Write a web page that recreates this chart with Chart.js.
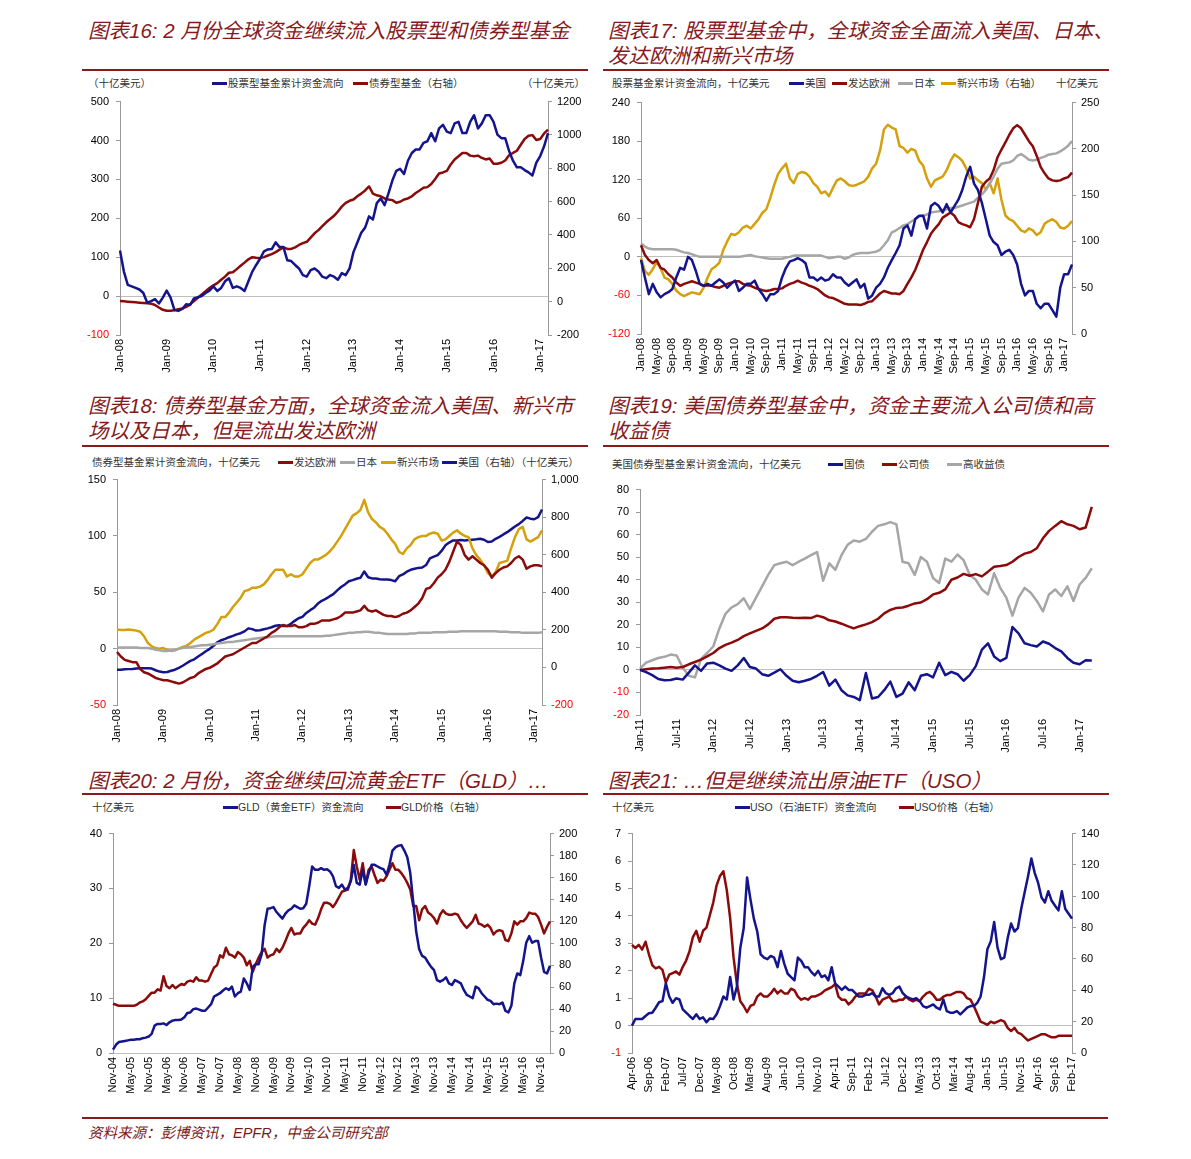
<!DOCTYPE html>
<html>
<head>
<meta charset="utf-8">
<script src="https://cdn.jsdelivr.net/npm/chart.js@4.4.1/dist/chart.umd.min.js"></script>
<style>
  body { margin: 0; background: #fff; width: 1191px; height: 1159px; position: relative; overflow: hidden; }
  .t { position: absolute; white-space: nowrap; }
  .title { font-family: "Liberation Sans", "Noto Sans CJK SC", sans-serif; font-style: italic; font-size: 20.5px; line-height: 25px; color: #86191c; }
  .rule { position: absolute; height: 2px; background: #8b1a1a; }
  .lg { font-family: "Liberation Sans", "Noto Sans CJK SC", sans-serif; font-size: 10.5px; line-height: 12px; color: #333; }
  .sw { position: absolute; width: 15px; height: 3px; }
  .foot { font-family: "Liberation Sans", "Noto Sans CJK SC", sans-serif; font-style: italic; font-size: 14.5px; color: #7a1a1a; }
  canvas { position: absolute; }
</style>
</head>
<body>

<div class="t title" style="left:88px;top:18px">图表16: 2 月份全球资金继续流入股票型和债券型基金</div>
<div class="rule" style="left:82px;top:69px;width:506px"></div>
<div class="t title" style="left:608px;top:18px">图表17: 股票型基金中，全球资金全面流入美国、日本、<br>发达欧洲和新兴市场</div>
<div class="rule" style="left:603px;top:69px;width:506px"></div>
<div class="t title" style="left:88px;top:393px">图表18: 债券型基金方面，全球资金流入美国、新兴市<br>场以及日本，但是流出发达欧洲</div>
<div class="rule" style="left:82px;top:445px;width:506px"></div>
<div class="t title" style="left:608px;top:393px">图表19: 美国债券型基金中，资金主要流入公司债和高<br>收益债</div>
<div class="rule" style="left:603px;top:445px;width:506px"></div>
<div class="t title" style="left:88px;top:768px">图表20: 2 月份，资金继续回流黄金ETF（GLD）…</div>
<div class="rule" style="left:82px;top:793px;width:506px"></div>
<div class="t title" style="left:608px;top:768px">图表21: …但是继续流出原油ETF（USO）</div>
<div class="rule" style="left:603px;top:793px;width:506px"></div>

<div class="rule" style="left:82px;top:1117px;width:1026px;height:1.5px"></div>
<div class="t foot" style="left:88px;top:1121px">资料来源：彭博资讯，EPFR，中金公司研究部</div>

<div id="legends"></div>

<canvas id="c16"></canvas>
<canvas id="c17"></canvas>
<canvas id="c18"></canvas>
<canvas id="c19"></canvas>
<canvas id="c20"></canvas>
<canvas id="c21"></canvas>

<script>
  // ---- colours ----
  const NAVY = '#14148c';
  const DARKRED = '#8b0a0a';
  const GREY = '#a6a6a6';
  const GOLD = '#d4a00c';

  // ---- categories ----
  const MONTHS = ['Jan', 'Feb', 'Mar', 'Apr', 'May', 'Jun', 'Jul', 'Aug', 'Sep', 'Oct', 'Nov', 'Dec'];
  function monthLabels(year, month, count) {
    const out = [];
    for (let i = 0; i < count; i++) {
      const k = month + i;
      const yy = (year + Math.floor(k / 12)) % 100;
      out.push(MONTHS[k % 12] + '-' + String(yy).padStart(2, '0'));
    }
    return out;
  }
  const months0817 = monthLabels(2008, 0, 111);
  const months1117 = monthLabels(2011, 0, 75);
  const months0417 = monthLabels(2004, 10, 148);
  const months0617 = monthLabels(2006, 3, 131);

  // ---- tick labels ----
  const ticksYearly = ['Jan-08', 'Jan-09', 'Jan-10', 'Jan-11', 'Jan-12', 'Jan-13', 'Jan-14', 'Jan-15', 'Jan-16', 'Jan-17'];
  const ticks17 = ['Jan-08', 'May-08', 'Sep-08', 'Jan-09', 'May-09', 'Sep-09', 'Jan-10', 'May-10', 'Sep-10',
    'Jan-11', 'May-11', 'Sep-11', 'Jan-12', 'May-12', 'Sep-12', 'Jan-13', 'May-13', 'Sep-13', 'Jan-14', 'May-14',
    'Sep-14', 'Jan-15', 'May-15', 'Sep-15', 'Jan-16', 'May-16', 'Sep-16', 'Jan-17'];
  const ticks19 = ['Jan-11', 'Jul-11', 'Jan-12', 'Jul-12', 'Jan-13', 'Jul-13', 'Jan-14', 'Jul-14', 'Jan-15',
    'Jul-15', 'Jan-16', 'Jul-16', 'Jan-17'];
  const ticks20 = ['Nov-04', 'May-05', 'Nov-05', 'May-06', 'Nov-06', 'May-07', 'Nov-07', 'May-08', 'Nov-08',
    'May-09', 'Nov-09', 'May-10', 'Nov-10', 'May-11', 'Nov-11', 'May-12', 'Nov-12', 'May-13', 'Nov-13',
    'May-14', 'Nov-14', 'May-15', 'Nov-15', 'May-16', 'Nov-16'];
  const ticks21 = ['Apr-06', 'Sep-06', 'Feb-07', 'Jul-07', 'Dec-07', 'May-08', 'Oct-08', 'Mar-09', 'Aug-09',
    'Jan-10', 'Jun-10', 'Nov-10', 'Apr-11', 'Sep-11', 'Feb-12', 'Jul-12', 'Dec-12', 'May-13', 'Oct-13',
    'Mar-14', 'Aug-14', 'Jan-15', 'Jun-15', 'Nov-15', 'Apr-16', 'Sep-16', 'Feb-17'];

  // ---- chart 16: equity (left) / bond (right), bn USD ----
  const equity16 = [117, 63, 29, 25, 21, 17, 8, -17, -13, -8, -19, -4,
    14, -4, -36, -38, -33, -21, -23, -6, -3, 0, 8, 14,
    25, 13, 21, 38, 46, 21, 25, 21, 13, 38, 63, 80,
    96, 115, 120, 121, 138, 126, 126, 92, 90, 80, 71, 54,
    50, 67, 71, 63, 50, 46, 54, 50, 42, 59, 54, 71,
    113, 138, 163, 176, 205, 197, 239, 251, 234, 264, 297, 322,
    327, 314, 348, 368, 377, 377, 394, 398, 419, 398, 431, 440,
    423, 419, 444, 448, 419, 419, 448, 465, 431, 444, 465, 465,
    448, 415, 406, 406, 373, 348, 331, 331, 324, 318, 310, 343,
    360, 385, 419];
  const bond16 = [4, 2, 0, -2, -4, -6, -8, -10, -12, -20, -35, -49,
    -55, -55, -51, -45, -41, -31, -16, 4, 23, 43, 62, 82,
    98, 111, 131, 150, 174, 176, 195, 215, 234, 254, 267, 263,
    261, 267, 277, 285, 297, 312, 326, 316, 316, 326, 340, 351,
    359, 384, 410, 429, 453, 476, 496, 515, 541, 570, 593, 605,
    613, 632, 648, 667, 691, 648, 638, 632, 619, 613, 609, 593,
    599, 613, 619, 632, 652, 667, 683, 687, 706, 736, 769, 775,
    784, 823, 853, 872, 892, 892, 876, 872, 876, 862, 853, 859,
    827, 827, 833, 847, 878, 892, 905, 941, 976, 995, 999, 970,
    976, 1009, 1032];

  // ---- chart 17: equity funds by region ----
  const us17 = [-5, -32, -58, -42, -55, -63, -58, -55, -50, -32, -17, -20,
    0, -5, -22, -42, -45, -42, -45, -40, -35, -40, -48, -42,
    -37, -53, -48, -42, -42, -37, -50, -58, -68, -58, -58, -53,
    -32, -17, -7, -5, -2, -5, -10, -32, -32, -37, -32, -37,
    -35, -27, -32, -32, -40, -45, -40, -35, -48, -42, -65, -60,
    -48, -42, -32, -17, -5, 6, 18, 44, 49, 33, 59, 64,
    64, 44, 79, 84, 79, 69, 82, 69, 79, 89, 104, 125,
    140, 114, 104, 84, 59, 33, 23, 18, 3, 8, 11, 3,
    -12, -42, -60, -53, -53, -73, -80, -73, -73, -83, -93, -48,
    -27, -27, -12];
  const eu17 = [18, 3, -5, -10, -5, -17, -20, -27, -32, -40, -45, -42,
    -40, -38, -40, -42, -45, -44, -45, -47, -48, -45, -42, -40,
    -38, -38, -42, -44, -45, -48, -50, -52, -53, -52, -50, -50,
    -49, -45, -42, -40, -37, -40, -42, -45, -47, -50, -55, -60,
    -63, -64, -67, -70, -73, -74, -74, -74, -75, -73, -70, -69,
    -63, -57, -53, -55, -57, -57, -58, -53, -42, -32, -20, -5,
    11, 23, 36, 44, 51, 61, 65, 69, 64, 54, 51, 49,
    46, 59, 84, 109, 117, 122, 135, 155, 167, 178, 190, 200,
    205, 200, 190, 180, 172, 157, 140, 130, 122, 119, 118, 119,
    122, 124, 131];
  const jp17 = [21, 16, 13, 12, 12, 12, 12, 12, 12, 11, 9, 7,
    6, 4, 2, 0, 0, 0, 0, 0, 0, 0, 0, 0,
    0, 0, 1, 2, 3, 1, 0, -1, -2, -3, -3, -3,
    -3, -1, 0, 2, 2, 2, 2, 2, 2, 2, 2, 0,
    -2, -1, 0, 0, -3, -1, 3, 5, 6, 6, 6, 7,
    8, 11, 18, 26, 38, 41, 45, 49, 51, 55, 59, 63,
    64, 66, 69, 70, 71, 73, 74, 76, 76, 78, 80, 82,
    84, 86, 92, 97, 104, 114, 125, 137, 145, 146, 147, 150,
    157, 160, 156, 151, 150, 151, 154, 156, 159, 160, 161, 164,
    168, 173, 180];
  const em17 = [82, 68, 64, 70, 78, 71, 61, 59, 54, 47, 43, 41,
    43, 45, 44, 43, 50, 61, 70, 73, 77, 91, 100, 108,
    107, 110, 115, 117, 114, 119, 124, 131, 135, 147, 161, 173,
    179, 184, 168, 163, 173, 175, 174, 170, 163, 159, 152, 154,
    149, 158, 166, 168, 165, 161, 160, 161, 163, 165, 170, 179,
    184, 198, 221, 226, 223, 221, 203, 201, 196, 200, 198, 187,
    182, 168, 159, 166, 168, 170, 177, 187, 194, 191, 187, 179,
    168, 170, 166, 163, 156, 163, 152, 168, 145, 128, 124, 122,
    117, 112, 110, 114, 112, 107, 110, 119, 122, 124, 121, 115,
    114, 117, 122];

  // ---- chart 18: bond funds by region ----
  const eu18 = [-3, -7, -10, -11, -12, -12, -18, -21, -22, -24, -26, -27,
    -28, -28, -29, -30, -31, -30, -28, -26, -25, -22, -20, -18,
    -17, -15, -13, -10, -7, -6, -5, -3, -1, 1, 3, 5,
    5, 7, 9, 11, 14, 16, 19, 21, 20, 20, 21, 19,
    19, 20, 22, 22, 23, 25, 25, 25, 26, 27, 29, 32,
    32, 32, 33, 34, 38, 34, 33, 34, 32, 30, 29, 29,
    28, 29, 31, 32, 34, 37, 40, 45, 53, 54, 58, 63,
    66, 70, 77, 86, 95, 92, 83, 79, 82, 79, 76, 74,
    70, 63, 67, 70, 72, 73, 76, 80, 82, 79, 71, 73,
    74, 74, 73];
  const jp18 = [1, 1, 1, 1, 1, 1, 0.5, 0.5, 0.5, 0, -1, -1.5,
    -2, -2, -1.5, -1, 0, 0.5, 1, 1.5, 2, 2.5, 3, 3,
    3.5, 4, 4.5, 5, 5.5, 6, 6, 6.5, 7, 7.5, 8, 8.5,
    9, 9.5, 10, 10, 10.5, 11, 11, 11, 11, 11, 11, 11,
    11, 11, 11, 11, 11, 11, 11.5, 11.5, 12, 12.5, 13, 13.5,
    14, 14, 14.5, 14.5, 15, 15, 14.5, 14, 14, 13.5, 13, 13,
    13, 13, 13, 13, 13.5, 13.5, 14, 14, 14, 14, 14.5, 14.5,
    14.5, 14.5, 15, 15, 15, 15.5, 15.5, 15.5, 15.5, 15.5, 15.5, 15.5,
    15.5, 15.5, 15.5, 15, 15, 15, 14.5, 14.5, 14.5, 14, 14, 14,
    14, 14, 14.5];
  const em18 = [17, 16.5, 16.5, 17, 16.5, 16, 15, 11, 5, 2, 0.5, 0,
    0.5, -1, -2, -1.5, 0, 1.5, 2.5, 5, 8, 10, 12, 14,
    15, 17, 22, 28, 28, 32, 37, 41, 45, 51, 52, 54,
    54, 55, 57, 61, 66, 70, 70, 70, 64, 66, 64, 64,
    66, 71, 76, 79, 79, 81, 83, 86, 90, 95, 100, 106,
    112, 118, 120, 123, 132, 121, 115, 112, 108, 106, 102, 97,
    93, 86, 84, 89, 92, 97, 99, 100, 100, 102, 103, 102,
    96, 97, 100, 103, 105, 102, 100, 99, 89, 83, 79, 74,
    67, 64, 68, 76, 77, 78, 89, 99, 106, 108, 97, 95,
    97, 99, 105];
  const us18 = [-12, -12, -10, -9, -8, -6, -5, -5, -5, -6, -15, -22,
    -26, -24, -18, -12, -2, 9, 22, 35, 43, 58, 72, 86,
    99, 115, 134, 145, 152, 161, 168, 176, 182, 192, 208, 204,
    196, 198, 203, 208, 214, 222, 225, 221, 220, 232, 248, 262,
    269, 290, 305, 318, 340, 355, 365, 378, 390, 410, 428, 442,
    459, 465, 472, 477, 511, 480, 474, 473, 470, 468, 468, 465,
    459, 486, 495, 510, 520, 525, 530, 532, 545, 581, 590, 598,
    620, 650, 665, 676, 676, 678, 676, 678, 680, 682, 685, 680,
    668, 670, 685, 695, 708, 720, 735, 750, 763, 780, 798, 792,
    789, 800, 841];

  // ---- chart 19: US bond funds by type ----
  const gov19 = [0, -1, -2.3, -4, -4.6, -4.5, -3.8, -4.3, -1.2, 2, -0.4, 2.9,
    3.2, 2, 0.6, -0.4, 2, 5.3, 1.3, 0.6, -1.9, -2.6, -1.2, 0.3,
    -2.6, -4.8, -5.5, -4.8, -4, -2.6, -0.9, -7, -4.3, -9, -11.3, -12,
    -13.4, -1.4, -12.7, -12, -9, -5.2, -12, -10.5, -5.5, -9, -2.6, -1.9,
    -3.3, 3.2, -2.3, -0.9, -1.9, -4.8, -2.3, 1.7, 9, 11.8, 6, 3.9,
    5.3, 19, 16.2, 11.8, 11, 10.4, 12.6, 11.6, 9.7, 8.2, 5.3, 3.2,
    2.5, 4.3, 4.2];
  const corp19 = [0, 0.3, 0.6, 0.7, 1, 1.3, 1, 1.3, 2.5, 3.5, 4.6, 6,
    7.5, 9.7, 11.1, 12.1, 13.3, 15, 16.2, 17.3, 18.4, 20.2, 22.7, 23.4,
    23.4, 23.1, 23, 23.1, 23, 24.1, 23.4, 22, 21.5, 20.5, 19.4, 18.4,
    19.4, 20.2, 21.2, 22.7, 25.1, 26.6, 27.5, 27.7, 28.5, 29.5, 29.9, 31.4,
    33.5, 34.2, 35.7, 40, 41, 42.6, 41.8, 42.5, 41.5, 43.6, 45.8, 46.1,
    46.5, 48, 50.1, 51.6, 52.3, 54, 58.4, 61.7, 63.9, 66, 64.6, 63.9,
    62.4, 63.2, 72.3];
  const hy19 = [0.6, 3.2, 4.3, 5.3, 5.8, 6.8, 6.4, 1, -2.6, -3.3, 4.9, 7.5,
    10.4, 18.4, 24.9, 27.7, 29.2, 31.8, 27, 32.1, 37.1, 42.2, 46.5, 47.3,
    48, 46.5, 48, 49.4, 50.9, 52.3, 39.6, 47.3, 44.4, 50.9, 55.5, 57.4,
    56.9, 58.1, 61.3, 63.9, 64.6, 65.6, 64.6, 48, 47.3, 42.2, 50.1, 48,
    40.8, 38.6, 49.4, 48, 51.2, 48.7, 42.2, 40, 35.7, 33.5, 42.9, 36.4,
    32.1, 24.1, 32.1, 36.4, 34.2, 30.6, 26, 33.5, 35.7, 32.8, 37.1, 30.6,
    37.9, 40.8, 45.1];

  // ---- chart 20: GLD flows (left) / price (right) ----
  const flow20 = [0.6, 1.5, 2, 2.1, 2.2, 2.3, 2.4, 2.4, 2.5, 2.5, 2.7, 2.8,
    3, 3.5, 5, 5.3, 5.3, 5.4, 5.1, 5.6, 5.9, 6, 6, 6.1,
    6.5, 7.3, 7.4, 8, 8.1, 7.9, 7.7, 7.7, 8.3, 8.9, 10.3, 10.6,
    10.9, 11.4, 11.8, 11.5, 12.1, 10.3, 10.9, 11.2, 13.6, 12.7, 11.5, 15.7,
    16.2, 16.2, 18, 23.3, 26.3, 26.4, 26.6, 25.7, 25.1, 24.5, 25.4, 26,
    26.3, 26.9, 26.6, 26.3, 26.4, 27.2, 30.4, 34, 33.4, 33.4, 33.7, 33.4,
    33.5, 33.1, 32.2, 30.4, 30.1, 30.7, 29.8, 30.1, 31.3, 34.3, 31, 30.7,
    33.4, 30.7, 32.8, 34.3, 34.3, 34, 33.7, 33.5, 32.5, 34.3, 36.9, 37.5,
    37.8, 37.9, 36.9, 35.7, 32.8, 27.5, 22.1, 18.9, 17.7, 17.4, 16.5, 15.7,
    15.1, 13.3, 13, 13.3, 13.8, 12.7, 12.4, 13.3, 13, 12.7, 11.5, 10.6,
    10.3, 10, 12.1, 11.8, 10.9, 10.3, 9.7, 9.5, 8.9, 9, 8.9, 9.2,
    7.7, 7.4, 8.6, 12.7, 14.5, 14.2, 16.8, 20.1, 21.3, 20.1, 20.4, 20.4,
    17.4, 14.8, 14.5, 15.9];
  const price20 = [45, 44, 43, 43, 43, 43, 43, 43, 44, 46, 47, 49,
    52, 55, 55, 58, 57, 70, 61, 59, 62, 59, 61, 63,
    62, 65, 66, 65, 69, 66, 66, 65, 66, 72, 78, 80,
    89, 87, 96, 90, 89, 87, 92, 90, 87, 80, 84, 74,
    81, 87, 92, 95, 87, 89, 90, 95, 92, 96, 102, 109,
    114, 108, 109, 109, 114, 117, 121, 118, 117, 123, 131, 137,
    137, 136, 133, 137, 142, 147, 148, 149, 158, 185, 170, 158,
    173, 154, 167, 170, 162, 155, 158, 157, 161, 167, 173, 167,
    167, 164, 160, 155, 149, 134, 134, 121, 131, 134, 128, 126,
    123, 118, 126, 130, 127, 126, 126, 127, 126, 121, 117, 114,
    117, 120, 126, 118, 117, 115, 117, 114, 108, 111, 112, 111,
    103, 102, 109, 120, 117, 120, 120, 123, 128, 127, 127, 124,
    117, 109, 115, 120];

  // ---- chart 21: USO flows (left) / price (right) ----
  const flow21 = [0, 0.24, 0.24, 0.24, 0.35, 0.45, 0.47, 0.65, 0.85, 0.89, 1.54, 1.06,
    0.83, 1.0, 0.95, 0.59, 0.47, 0.35, 0.24, 0.41, 0.24, 0.3, 0.12, 0.26,
    0.24, 0.41, 0.71, 1.06, 0.95, 1.77, 0.95, 1.42, 2.84, 3.55, 5.4, 4.6,
    3.9, 3.43, 2.6, 2.48, 2.42, 2.54, 2.48, 2.13, 2.72, 2.25, 1.89, 1.77,
    1.65, 2.48, 2.36, 2.13, 2.13, 1.95, 1.83, 2.0, 1.77, 1.83, 1.65, 2.13,
    1.54, 1.42, 1.3, 1.42, 1.3, 1.3, 1.18, 1.06, 1.06, 1.12, 1.12, 1.18,
    1.06, 1.06, 1.36, 1.18, 1.12, 1.18, 1.36, 1.42, 1.18, 1.06, 1.0, 0.95,
    1.0, 0.89, 0.71, 0.65, 0.71, 0.77, 0.65, 0.59, 0.95, 0.53, 0.47, 0.47,
    0.53, 0.41, 0.53, 0.65, 0.71, 0.71, 0.83, 1.06, 1.77, 2.78, 3.07, 3.78,
    2.84, 2.42, 2.48, 3.19, 3.72, 3.43, 3.55, 4.26, 4.85, 5.44, 6.09, 5.56,
    5.2, 4.67, 4.49, 4.9, 4.55, 4.37, 4.2, 4.9, 4.26, 4.08, 3.9];
  const price21 = [69, 67, 69, 66, 71, 63, 56, 54, 55, 53, 45, 50,
    51, 52, 50, 55, 59, 65, 74, 78, 71, 78, 80, 88,
    96, 107, 113, 116, 104, 86, 61, 44, 33, 30, 26, 30,
    31, 36, 38, 36, 36, 38, 41, 38, 40, 38, 38, 41,
    40, 36, 34, 35, 34, 36, 36, 37, 38, 40, 41, 42,
    44, 36, 34, 34, 31, 33, 36, 38, 38, 38, 41, 40,
    36, 31, 34, 35, 36, 33, 33, 34, 34, 36, 34, 33,
    34, 33, 36, 38, 39, 37, 34, 34, 36, 37, 37, 38,
    39, 39, 38, 35, 34, 30, 25, 20, 19, 18, 20, 19,
    20, 21, 20, 16, 14, 16, 13, 12, 10, 8, 9, 10,
    11, 12, 12, 11, 10, 10, 11, 11, 11, 11, 11];

  // ---- HTML legends ----
  const legendBox = document.getElementById('legends');
  function addText(x, y, text) {
    const el = document.createElement('div');
    el.className = 't lg';
    el.style.left = x + 'px';
    el.style.top = (y - 6) + 'px';
    el.textContent = text;
    legendBox.appendChild(el);
  }
  function addSwatch(x, y, color) {
    const el = document.createElement('div');
    el.className = 'sw';
    el.style.left = x + 'px';
    el.style.top = (y - 1) + 'px';
    el.style.background = color;
    legendBox.appendChild(el);
  }

  addText(88, 83, '（十亿美元）');
  addSwatch(212, 83, NAVY); addText(228, 83, '股票型基金累计资金流向');
  addSwatch(353, 83, DARKRED); addText(369, 83, '债券型基金（右轴）');
  addText(522, 83, '（十亿美元）');

  addText(612, 83, '股票基金累计资金流向，十亿美元');
  addSwatch(789, 83, NAVY); addText(805, 83, '美国');
  addSwatch(832, 83, DARKRED); addText(848, 83, '发达欧洲');
  addSwatch(898, 83, GREY); addText(914, 83, '日本');
  addSwatch(941, 83, GOLD); addText(957, 83, '新兴市场（右轴）');
  addText(1056, 83, '十亿美元');

  addText(92, 462, '债券型基金累计资金流向，十亿美元');
  addSwatch(278, 462, DARKRED); addText(294, 462, '发达欧洲');
  addSwatch(340, 462, GREY); addText(356, 462, '日本');
  addSwatch(381, 462, GOLD); addText(397, 462, '新兴市场');
  addSwatch(442, 462, NAVY); addText(458, 462, '美国（右轴）（十亿美元）');

  addText(612, 464, '美国债券型基金累计资金流向，十亿美元');
  addSwatch(828, 464, NAVY); addText(844, 464, '国债');
  addSwatch(882, 464, DARKRED); addText(898, 464, '公司债');
  addSwatch(947, 464, GREY); addText(963, 464, '高收益债');

  addText(92, 807, '十亿美元');
  addSwatch(223, 807, NAVY); addText(238, 807, 'GLD（黄金ETF）资金流向');
  addSwatch(386, 807, DARKRED); addText(401, 807, 'GLD价格（右轴）');

  addText(612, 807, '十亿美元');
  addSwatch(735, 807, NAVY); addText(750, 807, 'USO（石油ETF）资金流向');
  addSwatch(899, 807, DARKRED); addText(914, 807, 'USO价格（右轴）');

  // ---- charts ----
  Chart.defaults.font.family = '"Liberation Sans", Arial, sans-serif';
  Chart.defaults.font.size = 11;
  Chart.defaults.color = '#000';

  const LEFT_W = 40, RIGHT_W = 45, TOP_PAD = 8, X_H = 50;

  function yAxis(opts, side) {
    return {
      type: 'linear',
      position: side,
      min: opts.min,
      max: opts.max,
      ticks: {
        stepSize: opts.step,
        padding: side === 'left' ? 7 : 5,
        color: function (ctx) { return opts.negRed && ctx.tick.value < 0 ? '#ff0000' : '#000'; },
        callback: opts.format || function (v) { return String(v); }
      },
      grid: {
        drawOnChartArea: side === 'left',
        color: function (ctx) { return ctx.tick.value === 0 ? '#bfbfbf' : 'rgba(0,0,0,0)'; },
        tickColor: '#999',
        tickLength: 4
      },
      border: { color: '#999' },
      afterFit: function (s) { s.width = side === 'left' ? LEFT_W : RIGHT_W; }
    };
  }

  function lineChart(id, plot, labels, tickLabels, series, left, right) {
    const cv = document.getElementById(id);
    const w = plot.right - plot.left + LEFT_W + (right ? RIGHT_W : 12);
    const h = plot.bottom - plot.top + TOP_PAD + X_H;
    cv.width = w;
    cv.height = h;
    cv.style.left = (plot.left - LEFT_W) + 'px';
    cv.style.top = (plot.top - TOP_PAD) + 'px';
    cv.style.width = w + 'px';
    cv.style.height = h + 'px';

    const scales = {
      x: {
        type: 'category',
        offset: false,
        grid: { display: false, drawTicks: false },
        border: { display: false },
        ticks: {
          autoSkip: false,
          maxRotation: 90,
          minRotation: 90,
          padding: 4,
          callback: function (v, i) { return tickLabels.indexOf(labels[i]) >= 0 ? labels[i] : ''; }
        },
        afterFit: function (s) { s.height = X_H; }
      },
      y: yAxis(left, 'left')
    };
    if (right) scales.y1 = yAxis(right, 'right');

    new Chart(cv, {
      type: 'line',
      data: {
        labels: labels,
        datasets: series.map(function (s) {
          return {
            label: s.name,
            data: s.data,
            yAxisID: s.axis || 'y',
            borderColor: s.color,
            borderWidth: 2.5,
            pointRadius: 0,
            tension: 0,
            fill: false,
            borderJoinStyle: 'round'
          };
        })
      },
      options: {
        responsive: false,
        animation: false,
        layout: { padding: { top: TOP_PAD, right: right ? 0 : 12, left: 0, bottom: 0 } },
        plugins: { legend: { display: false }, tooltip: { enabled: false } },
        scales: scales
      }
    });
  }

  lineChart('c16', { left: 120, right: 548, top: 96, bottom: 335 }, months0817, ticksYearly, [
    { name: '股票型基金累计资金流向', data: equity16, color: NAVY },
    { name: '债券型基金（右轴）', data: bond16, color: DARKRED, axis: 'y1' }
  ], { min: -100, max: 500, step: 100, negRed: true }, { min: -200, max: 1200, step: 200, negRed: false });

  lineChart('c17', { left: 641, right: 1072, top: 97, bottom: 334 }, months0817, ticks17, [
    { name: '美国', data: us17, color: NAVY },
    { name: '发达欧洲', data: eu17, color: DARKRED },
    { name: '日本', data: jp17, color: GREY },
    { name: '新兴市场（右轴）', data: em17, color: GOLD, axis: 'y1' }
  ], { min: -120, max: 240, step: 60, negRed: true }, { min: 0, max: 250, step: 50, negRed: true });

  lineChart('c18', { left: 117, right: 542, top: 474, bottom: 705 }, months0817, ticksYearly, [
    { name: '发达欧洲', data: eu18, color: DARKRED },
    { name: '日本', data: jp18, color: GREY },
    { name: '新兴市场', data: em18, color: GOLD },
    { name: '美国（右轴）', data: us18, color: NAVY, axis: 'y1' }
  ], { min: -50, max: 150, step: 50, negRed: true },
  { min: -200, max: 1000, step: 200, negRed: true, format: function (v) { return v.toLocaleString('en-US'); } });

  lineChart('c19', { left: 640, right: 1097, top: 484, bottom: 715 }, months1117, ticks19, [
    { name: '国债', data: gov19, color: NAVY },
    { name: '公司债', data: corp19, color: DARKRED },
    { name: '高收益债', data: hy19, color: GREY }
  ], { min: -20, max: 80, step: 10, negRed: true }, null);

  lineChart('c20', { left: 113, right: 550, top: 828, bottom: 1053 }, months0417, ticks20, [
    { name: 'GLD（黄金ETF）资金流向', data: flow20, color: NAVY },
    { name: 'GLD价格（右轴）', data: price20, color: DARKRED, axis: 'y1' }
  ], { min: 0, max: 40, step: 10, negRed: true }, { min: 0, max: 200, step: 20, negRed: true });

  lineChart('c21', { left: 632, right: 1072, top: 828, bottom: 1053 }, months0617, ticks21, [
    { name: 'USO（石油ETF）资金流向', data: flow21, color: NAVY },
    { name: 'USO价格（右轴）', data: price21, color: DARKRED, axis: 'y1' }
  ], { min: -1, max: 7, step: 1, negRed: true }, { min: 0, max: 140, step: 20, negRed: true });
</script>
</body>
</html>
